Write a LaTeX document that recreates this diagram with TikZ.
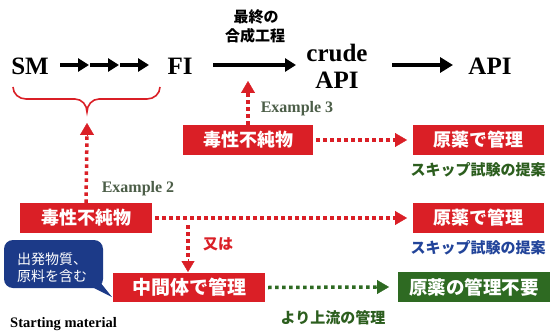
\documentclass[tikz,border=0pt]{standalone}
\usepackage{fontspec}
\setmainfont{Liberation Serif}
\newfontfamily\jp{Noto Sans CJK JP}
\usetikzlibrary{arrows.meta}
\definecolor{myred}{HTML}{DA1F26}
\definecolor{mygreen}{HTML}{2E6A22}
\definecolor{txtgreen}{HTML}{2C5E1E}
\definecolor{exgreen}{HTML}{4C5E48}
\definecolor{myblue}{HTML}{22449A}
\definecolor{bubble}{HTML}{1C3A88}
\begin{document}
\begin{tikzpicture}[x=1pt,y=-1pt,
  big/.style={font=\bfseries\fontsize{25}{27}\selectfont, inner sep=0pt, align=center},
  jplabel/.style={font=\jp\bfseries\fontsize{#1}{#1}\selectfont, inner sep=0pt},
  colbox/.style={fill=#1, text=white, font=\jp\bfseries\fontsize{18}{20}\selectfont, minimum height=30pt, inner sep=0pt},
  extext/.style={text=exgreen, font=\bfseries\fontsize{16}{17}\selectfont, inner sep=0pt},
  blkarrow/.style={line width=3.5pt, -{Triangle[length=11pt,width=13pt]}},
  dotline/.style={#1, line width=3.5pt, dash pattern=on 3.5pt off 3.5pt},
  redtip/.style={-{Triangle[length=12pt,width=14pt]}}
]
\useasboundingbox (0,0) rectangle (553,331);
\fill[white] (0,0) rectangle (553,331);

% main chain
\node[big] (sm) at (30,66) {SM};
\node[big] (fi) at (180,66) {FI};
\node[big] (crude) at (337,66) {crude\\API};
\node[big] (api) at (490,66) {API};

\coordinate (a1s) at (60,65); \coordinate (a1e) at (89,65);
\coordinate (a2s) at (90,65); \coordinate (a2e) at (119,65);
\coordinate (a3s) at (120,65); \coordinate (a3e) at (149,65);
\draw[blkarrow] (a1s) -- (a1e);
\draw[blkarrow] (a2s) -- (a2e);
\draw[blkarrow] (a3s) -- (a3e);
\coordinate (fl) at (213,65); \coordinate (fr) at (296,65);
\draw[blkarrow] (fl) -- (fr);
\coordinate (cl) at (392,65); \coordinate (cr) at (453,65);
\draw[line width=4.5pt, -{Triangle[length=13pt,width=15pt]}] (cl) -- (cr);

\node[jplabel=15] (lab1) at (256,17) {最終の};
\node[jplabel=15] (lab2) at (255,36) {合成工程};

% brace
\coordinate (bl) at (13,87);
\coordinate (btip) at (87,112);
\coordinate (br) at (160,87);
\draw[myred, line width=1.6pt] (bl) to[out=-90,in=180] (26,99) -- (75,99)
  to[out=0,in=90] (btip) to[out=90,in=180] (99,99) -- (147,99) to[out=0,in=-90] (br);

% example 3
\node[colbox=myred, minimum width=130pt] (tox3) at (248,140) {毒性不純物};
\node[colbox=myred, minimum width=131pt] (r1) at (478.5,140) {原薬で管理};
\node[extext] (ex3) at (297,109) {Example 3};
\coordinate (t3s) at (248,93);
\coordinate (t3) at (248,81);
\draw[dotline=myred] (tox3.north) -- (248,92);
\draw[myred, redtip] (t3s) -- (t3);
\coordinate (h3s) at (394,140);
\coordinate (h3) at (407,140);
\draw[dotline=myred] ([xshift=3pt]tox3.east) -- (395,140);
\draw[myred, redtip] (h3s) -- (h3);
\node[jplabel=15, text=txtgreen] (skip1) at (478,170) {スキップ試験の提案};

% example 2
\node[colbox=myred, minimum width=132pt] (tox2) at (86,218) {毒性不純物};
\node[colbox=myred, minimum width=131pt] (r2) at (478.5,218) {原薬で管理};
\node[extext] (ex2) at (138,189) {Example 2};
\coordinate (t2s) at (87,135);
\coordinate (t2) at (87,123);
\draw[dotline=myred] (tox2.north) -- (87,134);
\draw[myred, redtip] (t2s) -- (t2);
\coordinate (h2s) at (394,218);
\coordinate (h2) at (407,218);
\draw[dotline=myred] ([xshift=3pt]tox2.east) -- (395,218);
\draw[myred, redtip] (h2s) -- (h2);
\node[jplabel=15, text=myred] (or) at (218,244) {又は};

% intermediate
\node[colbox=myred, minimum width=152pt, minimum height=29pt, font=\jp\bfseries\fontsize{19}{20}\selectfont] (mid) at (189,287.5) {中間体で管理};
\coordinate (v1) at (188,225);
\coordinate (v2) at (188,259);
\coordinate (v3) at (188,272);
\draw[dotline=myred] (v1) -- (v2);
\draw[myred, -{Triangle[length=11pt,width=13pt]}] (v2) -- (v3);
\node[jplabel=15, text=myblue] (skip2) at (478,248) {スキップ試験の提案};

\node[colbox=mygreen, minimum width=152pt, font=\jp\bfseries\fontsize{18.5}{20}\selectfont] (g) at (474,287) {原薬の管理不要};
\coordinate (gs) at (376,287);
\coordinate (ge) at (389,287);
\draw[dotline=mygreen] ([xshift=3pt]mid.east) -- (377,287);
\draw[mygreen, -{Triangle[length=12pt,width=14pt]}] (gs) -- (ge);
\node[jplabel=15, text=txtgreen] (up) at (333,318) {より上流の管理};

% callout
\fill[bubble] (86,284) -- (112,297) -- (100,282) -- cycle;
\fill[bubble, rounded corners=9pt] (4,240) rectangle (103,288);
\node[text=white, font=\jp\fontsize{14}{17}\selectfont, align=left, inner sep=0pt] (cb) at (52,268) {出発物質、\\原料を含む};

\node[font=\bfseries\fontsize{14.5}{15}\selectfont, anchor=base west, inner sep=0pt] (stm) at (10,327) {Starting material};
\end{tikzpicture}
\end{document}
